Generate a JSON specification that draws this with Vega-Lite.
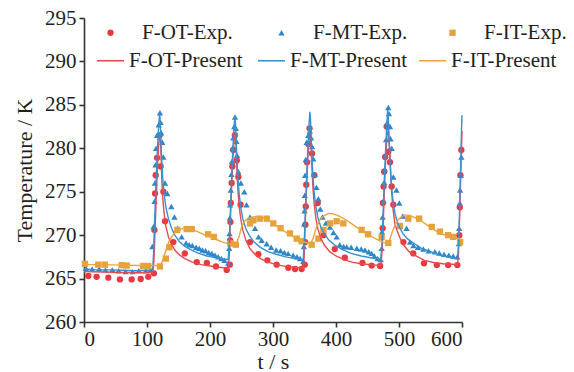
{
  "$schema": "https://vega.github.io/schema/vega-lite/v6.json",
  "width": 378,
  "height": 304,
  "autosize": {"type": "none"},
  "padding": {"left": 84, "top": 18, "right": 112, "bottom": 50},
  "background": "white",
  "config": {
    "view": {"stroke": null},
    "font": "Liberation Serif",
    "axis": {
      "grid": false,
      "domainColor": "#333333",
      "domainWidth": 1.6,
      "tickColor": "#333333",
      "tickWidth": 1.6,
      "tickSize": 5,
      "labelFont": "Liberation Serif",
      "labelFontSize": 21,
      "labelColor": "#231f20",
      "titleFont": "Liberation Serif",
      "titleFontSize": 22,
      "titleFontWeight": "normal",
      "titleColor": "#231f20"
    },
    "legend": {
      "labelFont": "Liberation Serif",
      "labelFontSize": 21,
      "labelColor": "#231f20",
      "labelLimit": 300,
      "padding": 0,
      "rowPadding": 0,
      "symbolOpacity": 1
    }
  },
  "datasets": {
    "exp": [
      {"s":"F-OT-Exp.","time":6.9,"temp":265.3},{"s":"F-OT-Exp.","time":20,"temp":265.2},{"s":"F-OT-Exp.","time":38.6,"temp":265.1},{"s":"F-OT-Exp.","time":57,"temp":264.9},{"s":"F-OT-Exp.","time":75.7,"temp":264.9},{"s":"F-OT-Exp.","time":90,"temp":264.95},{"s":"F-OT-Exp.","time":102,"temp":265.2},{"s":"F-OT-Exp.","time":111,"temp":265.6},{"s":"F-OT-Exp.","time":111.8,"temp":270.6},{"s":"F-OT-Exp.","time":112.8,"temp":274.8},{"s":"F-OT-Exp.","time":113.8,"temp":276.9},{"s":"F-OT-Exp.","time":116,"temp":278.9},{"s":"F-OT-Exp.","time":120,"temp":281.5},{"s":"F-OT-Exp.","time":121.7,"temp":277.9},{"s":"F-OT-Exp.","time":126,"temp":275.0},{"s":"F-OT-Exp.","time":128.6,"temp":271.6},{"s":"F-OT-Exp.","time":141.8,"temp":269.2},{"s":"F-OT-Exp.","time":160,"temp":267.9},{"s":"F-OT-Exp.","time":179,"temp":266.9},{"s":"F-OT-Exp.","time":195,"temp":266.8},{"s":"F-OT-Exp.","time":209.5,"temp":266.4},{"s":"F-OT-Exp.","time":226.5,"temp":266.0},{"s":"F-OT-Exp.","time":231.5,"temp":266.6},{"s":"F-OT-Exp.","time":232,"temp":269.4},{"s":"F-OT-Exp.","time":232.5,"temp":271.5},{"s":"F-OT-Exp.","time":233,"temp":273.7},{"s":"F-OT-Exp.","time":234.4,"temp":276.0},{"s":"F-OT-Exp.","time":235.5,"temp":277.9},{"s":"F-OT-Exp.","time":237,"temp":279.8},{"s":"F-OT-Exp.","time":239.5,"temp":281.5},{"s":"F-OT-Exp.","time":242.5,"temp":278.6},{"s":"F-OT-Exp.","time":245,"temp":276.7},{"s":"F-OT-Exp.","time":248.5,"temp":273.5},{"s":"F-OT-Exp.","time":263.5,"temp":269.2},{"s":"F-OT-Exp.","time":276.7,"temp":267.8},{"s":"F-OT-Exp.","time":291,"temp":267.1},{"s":"F-OT-Exp.","time":305.8,"temp":266.6},{"s":"F-OT-Exp.","time":324.3,"temp":266.25},{"s":"F-OT-Exp.","time":335,"temp":266.1},{"s":"F-OT-Exp.","time":345.5,"temp":266.1},{"s":"F-OT-Exp.","time":350.5,"temp":266.6},{"s":"F-OT-Exp.","time":351,"temp":269.2},{"s":"F-OT-Exp.","time":351.5,"temp":271.2},{"s":"F-OT-Exp.","time":352,"temp":273.3},{"s":"F-OT-Exp.","time":352.8,"temp":275.8},{"s":"F-OT-Exp.","time":354,"temp":278.4},{"s":"F-OT-Exp.","time":356,"temp":280.5},{"s":"F-OT-Exp.","time":358,"temp":282.3},{"s":"F-OT-Exp.","time":362,"temp":279.4},{"s":"F-OT-Exp.","time":365.6,"temp":276.9},{"s":"F-OT-Exp.","time":371,"temp":273.7},{"s":"F-OT-Exp.","time":380,"temp":270.0},{"s":"F-OT-Exp.","time":398,"temp":268.4},{"s":"F-OT-Exp.","time":414,"temp":267.4},{"s":"F-OT-Exp.","time":442,"temp":266.8},{"s":"F-OT-Exp.","time":456.6,"temp":266.5},{"s":"F-OT-Exp.","time":470,"temp":266.45},{"s":"F-OT-Exp.","time":474,"temp":270.8},{"s":"F-OT-Exp.","time":474.5,"temp":273.7},{"s":"F-OT-Exp.","time":475.5,"temp":275.6},{"s":"F-OT-Exp.","time":476.5,"temp":277.3},{"s":"F-OT-Exp.","time":478,"temp":279.0},{"s":"F-OT-Exp.","time":480.4,"temp":282.5},{"s":"F-OT-Exp.","time":483,"temp":279.6},{"s":"F-OT-Exp.","time":485.7,"temp":278.4},{"s":"F-OT-Exp.","time":488.4,"temp":275.6},{"s":"F-OT-Exp.","time":491,"temp":273.5},{"s":"F-OT-Exp.","time":507,"temp":269.2},{"s":"F-OT-Exp.","time":522.7,"temp":267.9},{"s":"F-OT-Exp.","time":539.7,"temp":266.75},{"s":"F-OT-Exp.","time":560,"temp":266.55},{"s":"F-OT-Exp.","time":578,"temp":266.55},{"s":"F-OT-Exp.","time":592.6,"temp":266.55},{"s":"F-OT-Exp.","time":595.7,"temp":270.0},{"s":"F-OT-Exp.","time":596.5,"temp":273.2},{"s":"F-OT-Exp.","time":597.5,"temp":276.9},{"s":"F-OT-Exp.","time":599,"temp":279.8},
      {"s":"F-MT-Exp.","time":3,"temp":266.2},{"s":"F-MT-Exp.","time":13,"temp":266.1},{"s":"F-MT-Exp.","time":24,"temp":266.1},{"s":"F-MT-Exp.","time":34,"temp":266.0},{"s":"F-MT-Exp.","time":45,"temp":266.0},{"s":"F-MT-Exp.","time":55,"temp":265.9},{"s":"F-MT-Exp.","time":66,"temp":265.8},{"s":"F-MT-Exp.","time":77,"temp":265.8},{"s":"F-MT-Exp.","time":87,"temp":265.9},{"s":"F-MT-Exp.","time":98,"temp":265.9},{"s":"F-MT-Exp.","time":106,"temp":266.0},{"s":"F-MT-Exp.","time":108.5,"temp":268.7},{"s":"F-MT-Exp.","time":110.5,"temp":271.0},{"s":"F-MT-Exp.","time":112,"temp":273.9},{"s":"F-MT-Exp.","time":112.5,"temp":276.0},{"s":"F-MT-Exp.","time":113.5,"temp":278.1},{"s":"F-MT-Exp.","time":114.5,"temp":280.0},{"s":"F-MT-Exp.","time":116,"temp":281.5},{"s":"F-MT-Exp.","time":118.5,"temp":282.7},{"s":"F-MT-Exp.","time":120.6,"temp":284.1},{"s":"F-MT-Exp.","time":121.6,"temp":283.0},{"s":"F-MT-Exp.","time":122.5,"temp":281.8},{"s":"F-MT-Exp.","time":124.3,"temp":280.7},{"s":"F-MT-Exp.","time":125.9,"temp":279.0},{"s":"F-MT-Exp.","time":128.6,"temp":276.0},{"s":"F-MT-Exp.","time":132.3,"temp":274.8},{"s":"F-MT-Exp.","time":138.6,"temp":273.3},{"s":"F-MT-Exp.","time":143.5,"temp":272.1},{"s":"F-MT-Exp.","time":148.7,"temp":270.8},{"s":"F-MT-Exp.","time":155,"temp":269.8},{"s":"F-MT-Exp.","time":162,"temp":269.1},{"s":"F-MT-Exp.","time":167,"temp":268.9},{"s":"F-MT-Exp.","time":172,"temp":268.8},{"s":"F-MT-Exp.","time":178,"temp":268.6},{"s":"F-MT-Exp.","time":183,"temp":268.5},{"s":"F-MT-Exp.","time":188,"temp":268.3},{"s":"F-MT-Exp.","time":193,"temp":268.2},{"s":"F-MT-Exp.","time":198,"temp":268.0},{"s":"F-MT-Exp.","time":203,"temp":267.9},{"s":"F-MT-Exp.","time":208,"temp":267.7},{"s":"F-MT-Exp.","time":213,"temp":267.5},{"s":"F-MT-Exp.","time":218,"temp":267.3},{"s":"F-MT-Exp.","time":223,"temp":267.1},{"s":"F-MT-Exp.","time":229,"temp":266.8},{"s":"F-MT-Exp.","time":230.5,"temp":268.5},{"s":"F-MT-Exp.","time":231,"temp":270.2},{"s":"F-MT-Exp.","time":231.5,"temp":272.0},{"s":"F-MT-Exp.","time":232,"temp":273.5},{"s":"F-MT-Exp.","time":233,"temp":275.2},{"s":"F-MT-Exp.","time":234,"temp":277.0},{"s":"F-MT-Exp.","time":235,"temp":278.5},{"s":"F-MT-Exp.","time":236,"temp":280.0},{"s":"F-MT-Exp.","time":237,"temp":281.2},{"s":"F-MT-Exp.","time":238.5,"temp":282.5},{"s":"F-MT-Exp.","time":239.7,"temp":283.6},{"s":"F-MT-Exp.","time":241,"temp":282.3},{"s":"F-MT-Exp.","time":242,"temp":280.8},{"s":"F-MT-Exp.","time":243,"temp":279.2},{"s":"F-MT-Exp.","time":245,"temp":277.3},{"s":"F-MT-Exp.","time":249,"temp":276.0},{"s":"F-MT-Exp.","time":254.5,"temp":275.0},{"s":"F-MT-Exp.","time":258,"temp":273.5},{"s":"F-MT-Exp.","time":263.5,"temp":272.1},{"s":"F-MT-Exp.","time":271.4,"temp":270.8},{"s":"F-MT-Exp.","time":277,"temp":269.8},{"s":"F-MT-Exp.","time":282,"temp":269.4},{"s":"F-MT-Exp.","time":290,"temp":269.0},{"s":"F-MT-Exp.","time":297,"temp":268.6},{"s":"F-MT-Exp.","time":305,"temp":268.3},{"s":"F-MT-Exp.","time":312,"temp":268.2},{"s":"F-MT-Exp.","time":318,"temp":268.0},{"s":"F-MT-Exp.","time":324,"temp":267.9},{"s":"F-MT-Exp.","time":332,"temp":267.7},{"s":"F-MT-Exp.","time":338,"temp":267.5},{"s":"F-MT-Exp.","time":343,"temp":267.3},{"s":"F-MT-Exp.","time":348,"temp":267.0},{"s":"F-MT-Exp.","time":349,"temp":268.7},{"s":"F-MT-Exp.","time":349.5,"temp":271.3},{"s":"F-MT-Exp.","time":350,"temp":272.8},{"s":"F-MT-Exp.","time":350.5,"temp":274.6},{"s":"F-MT-Exp.","time":351,"temp":276.9},{"s":"F-MT-Exp.","time":352,"temp":278.7},{"s":"F-MT-Exp.","time":353.5,"temp":280.7},{"s":"F-MT-Exp.","time":356,"temp":281.5},{"s":"F-MT-Exp.","time":358.5,"temp":282.0},{"s":"F-MT-Exp.","time":360.5,"temp":281.2},{"s":"F-MT-Exp.","time":362,"temp":280.2},{"s":"F-MT-Exp.","time":364,"temp":278.8},{"s":"F-MT-Exp.","time":366,"temp":277.0},{"s":"F-MT-Exp.","time":369,"temp":275.5},{"s":"F-MT-Exp.","time":372,"temp":274.2},{"s":"F-MT-Exp.","time":375,"temp":273.0},{"s":"F-MT-Exp.","time":378.5,"temp":272.1},{"s":"F-MT-Exp.","time":384,"temp":271.4},{"s":"F-MT-Exp.","time":390.5,"temp":270.95},{"s":"F-MT-Exp.","time":396,"temp":270.3},{"s":"F-MT-Exp.","time":401,"temp":269.8},{"s":"F-MT-Exp.","time":406,"temp":268.9},{"s":"F-MT-Exp.","time":412,"temp":268.7},{"s":"F-MT-Exp.","time":417,"temp":268.65},{"s":"F-MT-Exp.","time":424,"temp":268.6},{"s":"F-MT-Exp.","time":433,"temp":268.5},{"s":"F-MT-Exp.","time":440,"temp":268.4},{"s":"F-MT-Exp.","time":446,"temp":268.3},{"s":"F-MT-Exp.","time":452,"temp":268.1},{"s":"F-MT-Exp.","time":456.6,"temp":267.9},{"s":"F-MT-Exp.","time":461,"temp":267.6},{"s":"F-MT-Exp.","time":466,"temp":267.3},{"s":"F-MT-Exp.","time":471,"temp":267.2},{"s":"F-MT-Exp.","time":472.5,"temp":268.5},{"s":"F-MT-Exp.","time":473,"temp":270.4},{"s":"F-MT-Exp.","time":474,"temp":272.1},{"s":"F-MT-Exp.","time":475.5,"temp":274.0},{"s":"F-MT-Exp.","time":476.5,"temp":276.1},{"s":"F-MT-Exp.","time":477.5,"temp":277.6},{"s":"F-MT-Exp.","time":478.5,"temp":279.2},{"s":"F-MT-Exp.","time":479.5,"temp":281.0},{"s":"F-MT-Exp.","time":481,"temp":282.9},{"s":"F-MT-Exp.","time":483,"temp":284.7},{"s":"F-MT-Exp.","time":484,"temp":284.0},{"s":"F-MT-Exp.","time":485.7,"temp":282.5},{"s":"F-MT-Exp.","time":486.5,"temp":281.1},{"s":"F-MT-Exp.","time":488.4,"temp":280.0},{"s":"F-MT-Exp.","time":491,"temp":276.7},{"s":"F-MT-Exp.","time":496,"temp":275.2},{"s":"F-MT-Exp.","time":500.5,"temp":273.7},{"s":"F-MT-Exp.","time":506,"temp":272.2},{"s":"F-MT-Exp.","time":512,"temp":270.8},{"s":"F-MT-Exp.","time":517.5,"temp":269.2},{"s":"F-MT-Exp.","time":523,"temp":268.8},{"s":"F-MT-Exp.","time":530,"temp":268.6},{"s":"F-MT-Exp.","time":538.6,"temp":268.4},{"s":"F-MT-Exp.","time":547,"temp":268.2},{"s":"F-MT-Exp.","time":557,"temp":268.1},{"s":"F-MT-Exp.","time":564,"temp":267.95},{"s":"F-MT-Exp.","time":571.4,"temp":267.8},{"s":"F-MT-Exp.","time":579,"temp":267.7},{"s":"F-MT-Exp.","time":586,"temp":267.6},{"s":"F-MT-Exp.","time":592.6,"temp":267.5},{"s":"F-MT-Exp.","time":595,"temp":269.05},{"s":"F-MT-Exp.","time":595.5,"temp":270.8},{"s":"F-MT-Exp.","time":596.5,"temp":273.7},{"s":"F-MT-Exp.","time":597,"temp":275.2},{"s":"F-MT-Exp.","time":598,"temp":276.9},{"s":"F-MT-Exp.","time":599,"temp":279.0},
      {"s":"F-IT-Exp.","time":1.6,"temp":266.7},{"s":"F-IT-Exp.","time":22.7,"temp":266.6},{"s":"F-IT-Exp.","time":33,"temp":266.6},{"s":"F-IT-Exp.","time":59.8,"temp":266.55},{"s":"F-IT-Exp.","time":67.7,"temp":266.5},{"s":"F-IT-Exp.","time":94,"temp":266.45},{"s":"F-IT-Exp.","time":102,"temp":266.45},{"s":"F-IT-Exp.","time":120.6,"temp":266.4},{"s":"F-IT-Exp.","time":130,"temp":267.3},{"s":"F-IT-Exp.","time":135.5,"temp":268.6},{"s":"F-IT-Exp.","time":148,"temp":270.6},{"s":"F-IT-Exp.","time":163,"temp":270.7},{"s":"F-IT-Exp.","time":171,"temp":270.7},{"s":"F-IT-Exp.","time":197,"temp":270.1},{"s":"F-IT-Exp.","time":206,"temp":269.8},{"s":"F-IT-Exp.","time":232,"temp":269.05},{"s":"F-IT-Exp.","time":241,"temp":268.9},{"s":"F-IT-Exp.","time":263.5,"temp":271.35},{"s":"F-IT-Exp.","time":268.8,"temp":271.7},{"s":"F-IT-Exp.","time":279,"temp":271.9},{"s":"F-IT-Exp.","time":290,"temp":271.9},{"s":"F-IT-Exp.","time":300.5,"temp":271.35},{"s":"F-IT-Exp.","time":312,"temp":270.8},{"s":"F-IT-Exp.","time":327,"temp":270.2},{"s":"F-IT-Exp.","time":337.6,"temp":269.6},{"s":"F-IT-Exp.","time":345.5,"temp":269.3},{"s":"F-IT-Exp.","time":361.4,"temp":268.9},{"s":"F-IT-Exp.","time":372,"temp":269.6},{"s":"F-IT-Exp.","time":380,"temp":270.6},{"s":"F-IT-Exp.","time":390.5,"temp":271.35},{"s":"F-IT-Exp.","time":401,"temp":271.6},{"s":"F-IT-Exp.","time":411.6,"temp":271.35},{"s":"F-IT-Exp.","time":440.7,"temp":270.6},{"s":"F-IT-Exp.","time":451,"temp":270.1},{"s":"F-IT-Exp.","time":472.5,"temp":269.8},{"s":"F-IT-Exp.","time":483,"temp":269.1},{"s":"F-IT-Exp.","time":501.6,"temp":271.05},{"s":"F-IT-Exp.","time":514.8,"temp":271.9},{"s":"F-IT-Exp.","time":532,"temp":271.9},{"s":"F-IT-Exp.","time":552,"temp":270.95},{"s":"F-IT-Exp.","time":565,"temp":270.4},{"s":"F-IT-Exp.","time":578,"temp":270.0},{"s":"F-IT-Exp.","time":586,"temp":269.8},{"s":"F-IT-Exp.","time":597,"temp":269.2}
    ],
    "model": [
      {"s":"F-OT-Present","time":0,"temp":265.8},{"s":"F-OT-Present","time":30,"temp":265.75},{"s":"F-OT-Present","time":60,"temp":265.7},{"s":"F-OT-Present","time":90,"temp":265.7},{"s":"F-OT-Present","time":109,"temp":265.7},{"s":"F-OT-Present","time":111,"temp":267},{"s":"F-OT-Present","time":113,"temp":271},{"s":"F-OT-Present","time":115,"temp":275},{"s":"F-OT-Present","time":117,"temp":278.5},{"s":"F-OT-Present","time":119,"temp":280.8},{"s":"F-OT-Present","time":120.6,"temp":281.8},{"s":"F-OT-Present","time":121.5,"temp":281.0},{"s":"F-OT-Present","time":122.5,"temp":278.8},{"s":"F-OT-Present","time":123.5,"temp":276.5},{"s":"F-OT-Present","time":125,"temp":274.3},{"s":"F-OT-Present","time":127,"temp":272.6},{"s":"F-OT-Present","time":130,"temp":271.0},{"s":"F-OT-Present","time":134,"temp":269.8},{"s":"F-OT-Present","time":139,"temp":268.9},{"s":"F-OT-Present","time":145,"temp":268.2},{"s":"F-OT-Present","time":152,"temp":267.7},{"s":"F-OT-Present","time":160,"temp":267.3},{"s":"F-OT-Present","time":172,"temp":266.9},{"s":"F-OT-Present","time":186,"temp":266.6},{"s":"F-OT-Present","time":200,"temp":266.45},{"s":"F-OT-Present","time":215,"temp":266.3},{"s":"F-OT-Present","time":229,"temp":266.2},{"s":"F-OT-Present","time":230.5,"temp":267.5},{"s":"F-OT-Present","time":232,"temp":271},{"s":"F-OT-Present","time":234,"temp":275},{"s":"F-OT-Present","time":236,"temp":278.5},{"s":"F-OT-Present","time":238,"temp":280.8},{"s":"F-OT-Present","time":240,"temp":281.6},{"s":"F-OT-Present","time":241,"temp":281},{"s":"F-OT-Present","time":242,"temp":279},{"s":"F-OT-Present","time":243,"temp":277},{"s":"F-OT-Present","time":244.5,"temp":275},{"s":"F-OT-Present","time":246.5,"temp":273.2},{"s":"F-OT-Present","time":249,"temp":271.8},{"s":"F-OT-Present","time":252,"temp":270.6},{"s":"F-OT-Present","time":257,"temp":269.4},{"s":"F-OT-Present","time":263,"temp":268.5},{"s":"F-OT-Present","time":270,"temp":267.9},{"s":"F-OT-Present","time":280,"temp":267.3},{"s":"F-OT-Present","time":292,"temp":266.9},{"s":"F-OT-Present","time":305,"temp":266.6},{"s":"F-OT-Present","time":320,"temp":266.4},{"s":"F-OT-Present","time":335,"temp":266.3},{"s":"F-OT-Present","time":348,"temp":266.2},{"s":"F-OT-Present","time":349.5,"temp":267.5},{"s":"F-OT-Present","time":351,"temp":271},{"s":"F-OT-Present","time":353,"temp":275},{"s":"F-OT-Present","time":355,"temp":278.5},{"s":"F-OT-Present","time":357,"temp":281},{"s":"F-OT-Present","time":359,"temp":282.2},{"s":"F-OT-Present","time":360,"temp":281.5},{"s":"F-OT-Present","time":361,"temp":279.5},{"s":"F-OT-Present","time":362,"temp":277.5},{"s":"F-OT-Present","time":363.5,"temp":275.3},{"s":"F-OT-Present","time":365.5,"temp":273.5},{"s":"F-OT-Present","time":368,"temp":272},{"s":"F-OT-Present","time":371,"temp":270.8},{"s":"F-OT-Present","time":376,"temp":269.6},{"s":"F-OT-Present","time":382,"temp":268.8},{"s":"F-OT-Present","time":390,"temp":268.1},{"s":"F-OT-Present","time":400,"temp":267.6},{"s":"F-OT-Present","time":412,"temp":267.2},{"s":"F-OT-Present","time":425,"temp":266.9},{"s":"F-OT-Present","time":440,"temp":266.7},{"s":"F-OT-Present","time":455,"temp":266.6},{"s":"F-OT-Present","time":471,"temp":266.5},{"s":"F-OT-Present","time":473,"temp":268},{"s":"F-OT-Present","time":475,"temp":271.5},{"s":"F-OT-Present","time":477,"temp":275.5},{"s":"F-OT-Present","time":479,"temp":279},{"s":"F-OT-Present","time":481,"temp":281.5},{"s":"F-OT-Present","time":483,"temp":282.2},{"s":"F-OT-Present","time":484,"temp":281.2},{"s":"F-OT-Present","time":485.5,"temp":279.5},{"s":"F-OT-Present","time":487,"temp":277},{"s":"F-OT-Present","time":488.5,"temp":274.8},{"s":"F-OT-Present","time":490.5,"temp":273},{"s":"F-OT-Present","time":493.5,"temp":271.3},{"s":"F-OT-Present","time":497,"temp":270.5},{"s":"F-OT-Present","time":502,"temp":269.6},{"s":"F-OT-Present","time":508,"temp":268.8},{"s":"F-OT-Present","time":516,"temp":268.1},{"s":"F-OT-Present","time":527,"temp":267.6},{"s":"F-OT-Present","time":540,"temp":267.1},{"s":"F-OT-Present","time":555,"temp":266.85},{"s":"F-OT-Present","time":570,"temp":266.7},{"s":"F-OT-Present","time":585,"temp":266.65},{"s":"F-OT-Present","time":593,"temp":266.6},{"s":"F-OT-Present","time":594.5,"temp":268},{"s":"F-OT-Present","time":596,"temp":271.5},{"s":"F-OT-Present","time":597.5,"temp":275.5},{"s":"F-OT-Present","time":599,"temp":279.5},{"s":"F-OT-Present","time":600,"temp":282},
      {"s":"F-MT-Present","time":0,"temp":266.1},{"s":"F-MT-Present","time":20,"temp":266.0},{"s":"F-MT-Present","time":40,"temp":266.0},{"s":"F-MT-Present","time":60,"temp":265.95},{"s":"F-MT-Present","time":80,"temp":265.9},{"s":"F-MT-Present","time":100,"temp":265.95},{"s":"F-MT-Present","time":109,"temp":266.0},{"s":"F-MT-Present","time":110.5,"temp":268},{"s":"F-MT-Present","time":112,"temp":271.5},{"s":"F-MT-Present","time":114,"temp":275.5},{"s":"F-MT-Present","time":116,"temp":279},{"s":"F-MT-Present","time":118,"temp":282},{"s":"F-MT-Present","time":120,"temp":284.0},{"s":"F-MT-Present","time":121,"temp":283.2},{"s":"F-MT-Present","time":122,"temp":281},{"s":"F-MT-Present","time":123.5,"temp":278.5},{"s":"F-MT-Present","time":125,"temp":276.5},{"s":"F-MT-Present","time":127,"temp":274.8},{"s":"F-MT-Present","time":130,"temp":273.2},{"s":"F-MT-Present","time":134,"temp":271.9},{"s":"F-MT-Present","time":139,"temp":270.8},{"s":"F-MT-Present","time":145,"temp":269.9},{"s":"F-MT-Present","time":152,"temp":269.2},{"s":"F-MT-Present","time":160,"temp":268.7},{"s":"F-MT-Present","time":170,"temp":268.3},{"s":"F-MT-Present","time":182,"temp":267.9},{"s":"F-MT-Present","time":195,"temp":267.6},{"s":"F-MT-Present","time":210,"temp":267.4},{"s":"F-MT-Present","time":222,"temp":267.25},{"s":"F-MT-Present","time":229,"temp":267.2},{"s":"F-MT-Present","time":230.5,"temp":269},{"s":"F-MT-Present","time":232,"temp":272},{"s":"F-MT-Present","time":234,"temp":276},{"s":"F-MT-Present","time":236,"temp":279.5},{"s":"F-MT-Present","time":238,"temp":282.3},{"s":"F-MT-Present","time":239.5,"temp":283.6},{"s":"F-MT-Present","time":240.5,"temp":282.8},{"s":"F-MT-Present","time":241.5,"temp":280.8},{"s":"F-MT-Present","time":243,"temp":278.4},{"s":"F-MT-Present","time":244.5,"temp":276.4},{"s":"F-MT-Present","time":246.5,"temp":274.6},{"s":"F-MT-Present","time":249,"temp":273.1},{"s":"F-MT-Present","time":252,"temp":271.9},{"s":"F-MT-Present","time":257,"temp":270.7},{"s":"F-MT-Present","time":263,"temp":269.9},{"s":"F-MT-Present","time":270,"temp":269.2},{"s":"F-MT-Present","time":280,"temp":268.6},{"s":"F-MT-Present","time":292,"temp":268.1},{"s":"F-MT-Present","time":305,"temp":267.8},{"s":"F-MT-Present","time":320,"temp":267.5},{"s":"F-MT-Present","time":335,"temp":267.3},{"s":"F-MT-Present","time":348,"temp":267.2},{"s":"F-MT-Present","time":349.5,"temp":269},{"s":"F-MT-Present","time":351,"temp":272},{"s":"F-MT-Present","time":353,"temp":276},{"s":"F-MT-Present","time":355,"temp":279.5},{"s":"F-MT-Present","time":357,"temp":282.5},{"s":"F-MT-Present","time":358.5,"temp":284.2},{"s":"F-MT-Present","time":359.5,"temp":283.4},{"s":"F-MT-Present","time":360.5,"temp":281.2},{"s":"F-MT-Present","time":362,"temp":278.7},{"s":"F-MT-Present","time":363.5,"temp":276.6},{"s":"F-MT-Present","time":365.5,"temp":274.8},{"s":"F-MT-Present","time":368,"temp":273.3},{"s":"F-MT-Present","time":371,"temp":272.1},{"s":"F-MT-Present","time":376,"temp":270.9},{"s":"F-MT-Present","time":382,"temp":270.1},{"s":"F-MT-Present","time":389,"temp":269.4},{"s":"F-MT-Present","time":399,"temp":268.8},{"s":"F-MT-Present","time":411,"temp":268.3},{"s":"F-MT-Present","time":424,"temp":267.9},{"s":"F-MT-Present","time":440,"temp":267.6},{"s":"F-MT-Present","time":455,"temp":267.4},{"s":"F-MT-Present","time":471,"temp":267.2},{"s":"F-MT-Present","time":473,"temp":269},{"s":"F-MT-Present","time":474.5,"temp":272},{"s":"F-MT-Present","time":476.5,"temp":276},{"s":"F-MT-Present","time":478.5,"temp":279.5},{"s":"F-MT-Present","time":480.5,"temp":282.5},{"s":"F-MT-Present","time":482,"temp":284.4},{"s":"F-MT-Present","time":483,"temp":283.6},{"s":"F-MT-Present","time":484,"temp":281.4},{"s":"F-MT-Present","time":485.5,"temp":278.8},{"s":"F-MT-Present","time":487,"temp":276.7},{"s":"F-MT-Present","time":489,"temp":274.9},{"s":"F-MT-Present","time":491.5,"temp":273.4},{"s":"F-MT-Present","time":494.5,"temp":272.2},{"s":"F-MT-Present","time":500,"temp":271.0},{"s":"F-MT-Present","time":506,"temp":270.2},{"s":"F-MT-Present","time":513,"temp":269.6},{"s":"F-MT-Present","time":523,"temp":269.1},{"s":"F-MT-Present","time":535,"temp":268.5},{"s":"F-MT-Present","time":550,"temp":268.1},{"s":"F-MT-Present","time":565,"temp":267.7},{"s":"F-MT-Present","time":580,"temp":267.45},{"s":"F-MT-Present","time":593,"temp":267.3},{"s":"F-MT-Present","time":594.5,"temp":269},{"s":"F-MT-Present","time":596,"temp":272.5},{"s":"F-MT-Present","time":597.5,"temp":277},{"s":"F-MT-Present","time":599,"temp":281.5},{"s":"F-MT-Present","time":600,"temp":283.8},
      {"s":"F-IT-Present","time":0,"temp":266.6},{"s":"F-IT-Present","time":30,"temp":266.6},{"s":"F-IT-Present","time":60,"temp":266.55},{"s":"F-IT-Present","time":90,"temp":266.5},{"s":"F-IT-Present","time":118,"temp":266.5},{"s":"F-IT-Present","time":122,"temp":266.6},{"s":"F-IT-Present","time":126,"temp":267.3},{"s":"F-IT-Present","time":130,"temp":268.3},{"s":"F-IT-Present","time":135,"temp":269.3},{"s":"F-IT-Present","time":140,"temp":269.9},{"s":"F-IT-Present","time":146,"temp":270.4},{"s":"F-IT-Present","time":153,"temp":270.7},{"s":"F-IT-Present","time":160,"temp":270.8},{"s":"F-IT-Present","time":170,"temp":270.7},{"s":"F-IT-Present","time":180,"temp":270.4},{"s":"F-IT-Present","time":190,"temp":270.1},{"s":"F-IT-Present","time":200,"temp":269.8},{"s":"F-IT-Present","time":210,"temp":269.5},{"s":"F-IT-Present","time":220,"temp":269.2},{"s":"F-IT-Present","time":230,"temp":269.0},{"s":"F-IT-Present","time":238,"temp":268.9},{"s":"F-IT-Present","time":242,"temp":269.1},{"s":"F-IT-Present","time":246,"temp":269.8},{"s":"F-IT-Present","time":250,"temp":270.9},{"s":"F-IT-Present","time":255,"temp":271.6},{"s":"F-IT-Present","time":261,"temp":271.95},{"s":"F-IT-Present","time":268,"temp":272.1},{"s":"F-IT-Present","time":275,"temp":272.15},{"s":"F-IT-Present","time":285,"temp":272.0},{"s":"F-IT-Present","time":295,"temp":271.6},{"s":"F-IT-Present","time":305,"temp":271.1},{"s":"F-IT-Present","time":315,"temp":270.6},{"s":"F-IT-Present","time":325,"temp":270.1},{"s":"F-IT-Present","time":335,"temp":269.7},{"s":"F-IT-Present","time":345,"temp":269.3},{"s":"F-IT-Present","time":355,"temp":269.1},{"s":"F-IT-Present","time":360,"temp":269.1},{"s":"F-IT-Present","time":364,"temp":269.7},{"s":"F-IT-Present","time":368,"temp":270.7},{"s":"F-IT-Present","time":374,"temp":271.7},{"s":"F-IT-Present","time":380,"temp":272.2},{"s":"F-IT-Present","time":388,"temp":272.5},{"s":"F-IT-Present","time":396,"temp":272.45},{"s":"F-IT-Present","time":405,"temp":272.2},{"s":"F-IT-Present","time":415,"temp":271.8},{"s":"F-IT-Present","time":425,"temp":271.3},{"s":"F-IT-Present","time":435,"temp":270.8},{"s":"F-IT-Present","time":445,"temp":270.3},{"s":"F-IT-Present","time":455,"temp":269.9},{"s":"F-IT-Present","time":465,"temp":269.5},{"s":"F-IT-Present","time":474,"temp":269.2},{"s":"F-IT-Present","time":481,"temp":269.05},{"s":"F-IT-Present","time":485,"temp":269.4},{"s":"F-IT-Present","time":489,"temp":270.3},{"s":"F-IT-Present","time":494,"temp":271.2},{"s":"F-IT-Present","time":500,"temp":271.9},{"s":"F-IT-Present","time":508,"temp":272.3},{"s":"F-IT-Present","time":516,"temp":272.3},{"s":"F-IT-Present","time":526,"temp":272.0},{"s":"F-IT-Present","time":536,"temp":271.6},{"s":"F-IT-Present","time":546,"temp":271.1},{"s":"F-IT-Present","time":556,"temp":270.6},{"s":"F-IT-Present","time":566,"temp":270.2},{"s":"F-IT-Present","time":577,"temp":269.9},{"s":"F-IT-Present","time":588,"temp":269.7},{"s":"F-IT-Present","time":600,"temp":269.5}
    ]
  },
  "layer": [
    {
      "data": {"name": "exp"},
      "mark": {"type": "point", "filled": true, "opacity": 1, "size": 40},
      "encoding": {
        "x": {"field": "time", "type": "quantitative", "scale": {"domain": [0, 600], "nice": false},
          "axis": {"values": [0, 100, 200, 300, 400, 500, 600], "title": "t / s", "labelPadding": 1, "titlePadding": 2,
            "encode": {"ticks": {"update": {"y2": {"value": -5}}}}}},
        "y": {"field": "temp", "type": "quantitative", "scale": {"domain": [260, 295], "nice": false, "zero": false},
          "axis": {"values": [260, 265, 270, 275, 280, 285, 290, 295], "title": "Temperature / K", "labelPadding": 3, "titlePadding": 8,
            "encode": {"ticks": {"update": {"x2": {"value": 5}}}}}},
        "fill": {"field": "s", "type": "nominal",
          "scale": {"domain": ["F-OT-Exp.", "F-MT-Exp.", "F-IT-Exp."], "range": ["#e8393f", "#2d87c8", "#e6a13b"]},
          "legend": {"orient": "none", "legendX": 16, "legendY": 4, "direction": "horizontal", "columns": 3, "gridAlign": "all",
            "title": null, "symbolSize": 40, "labelOffset": 21, "columnPadding": 34}},
        "shape": {"field": "s", "type": "nominal",
          "scale": {"domain": ["F-OT-Exp.", "F-MT-Exp.", "F-IT-Exp."], "range": ["circle", "triangle-up", "square"]}}
      }
    },
    {
      "data": {"name": "model"},
      "mark": {"type": "line", "strokeWidth": 1.4},
      "encoding": {
        "x": {"field": "time", "type": "quantitative"},
        "y": {"field": "temp", "type": "quantitative"},
        "stroke": {"field": "s", "type": "nominal",
          "scale": {"domain": ["F-OT-Present", "F-MT-Present", "F-IT-Present"], "range": ["#ea4a4f", "#3a8fd0", "#eba43e"]},
          "legend": {"orient": "none", "legendX": 12, "legendY": 28, "direction": "horizontal", "columns": 3, "gridAlign": "all",
            "title": null, "symbolType": "stroke", "symbolSize": 729, "symbolStrokeWidth": 1.6, "labelOffset": 4, "columnPadding": 7}}
      }
    }
  ]
}
